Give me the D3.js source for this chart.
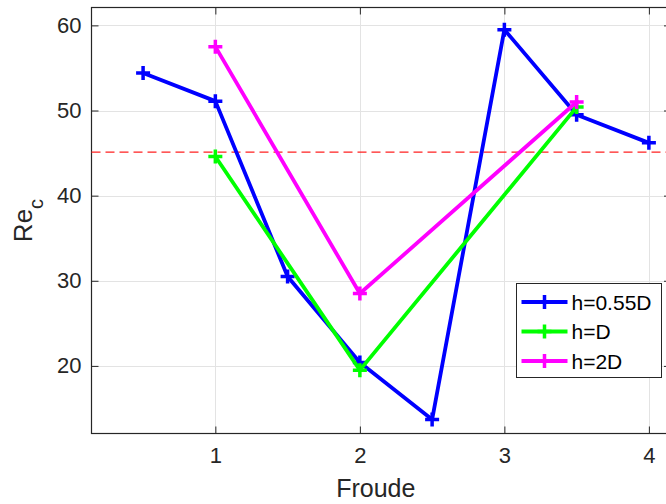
<!DOCTYPE html>
<html>
<head>
<meta charset="utf-8">
<script src="https://cdn.jsdelivr.net/npm/d3@7"></script>
<style>
  html, body { margin: 0; padding: 0; background: #fff; }
  svg { display: block; font-family: "Liberation Sans", Arial, Helvetica, sans-serif; }
</style>
</head>
<body>
<svg id="chart" width="666" height="504"></svg>
<script>
// Critical Reynolds number versus Froude number for three depths
const froudeBlue = [0.5, 1, 1.5, 2, 2.5, 3, 3.5, 4];
const recBlue    = [54.4, 51.1, 30.5, 20.4, 13.7, 59.5, 49.5, 46.2];
const froudeGreen = [1, 2, 3.5];
const recGreen    = [44.6, 19.5, 50.4];
const froudeMagenta = [1, 2, 3.5];
const recMagenta    = [57.5, 28.5, 51.0];
const seriesNames  = ["h=0.55D", "h=D", "h=2D"];
const seriesColors = ["#0000ff", "#00ff00", "#ff00ff"];
const thresholdRe = 45.1;
const xTicks = [1, 2, 3, 4];
const yTicks = [20, 30, 40, 50, 60];

const series = [
  { name: seriesNames[0], color: seriesColors[0], x: froudeBlue, y: recBlue },
  { name: seriesNames[1], color: seriesColors[1], x: froudeGreen, y: recGreen },
  { name: seriesNames[2], color: seriesColors[2], x: froudeMagenta, y: recMagenta }
];

const svg = d3.select("#chart");
const box = { left: 91.5, right: 671, top: 7.5, bottom: 433.5 };

const x = d3.scaleLinear().domain([0.143, 4.153]).range([box.left, box.right]);
const y = d3.scaleLinear().domain([12.06, 62.1]).range([box.bottom, box.top]);

const axisColor = "#262626";
const gridColor = "#e3e3e3";

// grid
const grid = svg.append("g");
grid.selectAll("line.gx").data(xTicks).enter().append("line")
  .attr("x1", d => Math.round(x(d)) + 0.5).attr("x2", d => Math.round(x(d)) + 0.5)
  .attr("y1", box.top).attr("y2", box.bottom)
  .attr("stroke", gridColor).attr("stroke-width", 1);
grid.selectAll("line.gy").data(yTicks).enter().append("line")
  .attr("y1", d => Math.round(y(d)) + 0.5).attr("y2", d => Math.round(y(d)) + 0.5)
  .attr("x1", box.left).attr("x2", box.right)
  .attr("stroke", gridColor).attr("stroke-width", 1);

// axes with inward ticks on all four sides
const tickLen = 7;
const bottomAxis = d3.axisBottom(x).tickValues(xTicks).tickSize(-tickLen).tickPadding(14).tickFormat(d3.format("d"));
const topAxis = d3.axisTop(x).tickValues(xTicks).tickSize(-tickLen).tickFormat("");
const leftAxis = d3.axisLeft(y).tickValues(yTicks).tickSize(-tickLen).tickPadding(10).tickFormat(d3.format("d"));
const rightAxis = d3.axisRight(y).tickValues(yTicks).tickSize(-tickLen).tickFormat("");

function styleAxis(g) {
  g.select(".domain").remove();
  g.selectAll(".tick line").attr("stroke", axisColor).attr("stroke-width", 1);
  g.selectAll(".tick text").attr("fill", axisColor).attr("font-size", 22)
    .attr("font-family", "Liberation Sans, Arial, sans-serif");
}
svg.append("g").attr("transform", `translate(0,${box.bottom})`).call(bottomAxis).call(styleAxis);
svg.append("g").attr("transform", `translate(0,${box.top})`).call(topAxis).call(styleAxis);
svg.append("g").attr("transform", `translate(${box.left},0)`).call(leftAxis).call(styleAxis);
svg.append("g").attr("transform", `translate(${box.right},0)`).call(rightAxis).call(styleAxis);

// box outline
svg.append("rect")
  .attr("x", box.left).attr("y", box.top)
  .attr("width", box.right - box.left).attr("height", box.bottom - box.top)
  .attr("fill", "none").attr("stroke", axisColor).attr("stroke-width", 1.2);

// threshold line
svg.append("line")
  .attr("x1", box.left).attr("x2", box.right)
  .attr("y1", y(thresholdRe)).attr("y2", y(thresholdRe))
  .attr("stroke", "#ff2020").attr("stroke-width", 1.2)
  .attr("stroke-dasharray", "9,5");

// series lines and plus markers
const plot = svg.append("g");
const line = d3.line().x(d => x(d[0])).y(d => y(d[1]));
const mk = 7;
function plus(g, cx, cy, color) {
  g.append("path")
    .attr("d", `M${cx - mk},${cy}H${cx + mk}M${cx},${cy - mk}V${cy + mk}`)
    .attr("stroke", color).attr("stroke-width", 3.5).attr("fill", "none");
}
series.forEach(s => {
  const pts = s.x.map((v, i) => [v, s.y[i]]);
  plot.append("path").datum(pts)
    .attr("d", line)
    .attr("fill", "none").attr("stroke", s.color)
    .attr("stroke-width", 3.8).attr("stroke-linejoin", "round");
  const g = plot.append("g");
  pts.forEach(p => plus(g, x(p[0]), y(p[1]), s.color));
});

// axis titles
svg.append("text")
  .attr("x", (box.left + 666) / 2 - 3).attr("y", 497)
  .attr("text-anchor", "middle").attr("font-size", 25).attr("fill", axisColor)
  .text("Froude");

const yl = svg.append("text")
  .attr("transform", `translate(32,${(box.top + box.bottom) / 2}) rotate(-90)`)
  .attr("text-anchor", "middle").attr("font-size", 26).attr("fill", axisColor);
yl.append("tspan").text("Re");
yl.append("tspan").attr("baseline-shift", "sub").attr("font-size", 20).text("c");

// legend
const leg = { x: 516.5, y: 283.5, w: 145, h: 94 };
const lg = svg.append("g");
lg.append("rect")
  .attr("x", leg.x).attr("y", leg.y).attr("width", leg.w).attr("height", leg.h)
  .attr("fill", "#fff").attr("stroke", axisColor).attr("stroke-width", 1);
series.forEach((s, i) => {
  const cy = leg.y + 18.5 + i * 29.5;
  lg.append("line")
    .attr("x1", leg.x + 5).attr("x2", leg.x + 51)
    .attr("y1", cy).attr("y2", cy)
    .attr("stroke", s.color).attr("stroke-width", 3.8);
  plus(lg, leg.x + 28, cy, s.color);
  lg.append("text")
    .attr("x", leg.x + 55).attr("y", cy + 7.5)
    .attr("font-size", 21).attr("fill", "#000")
    .text(s.name);
});
</script>
</body>
</html>
